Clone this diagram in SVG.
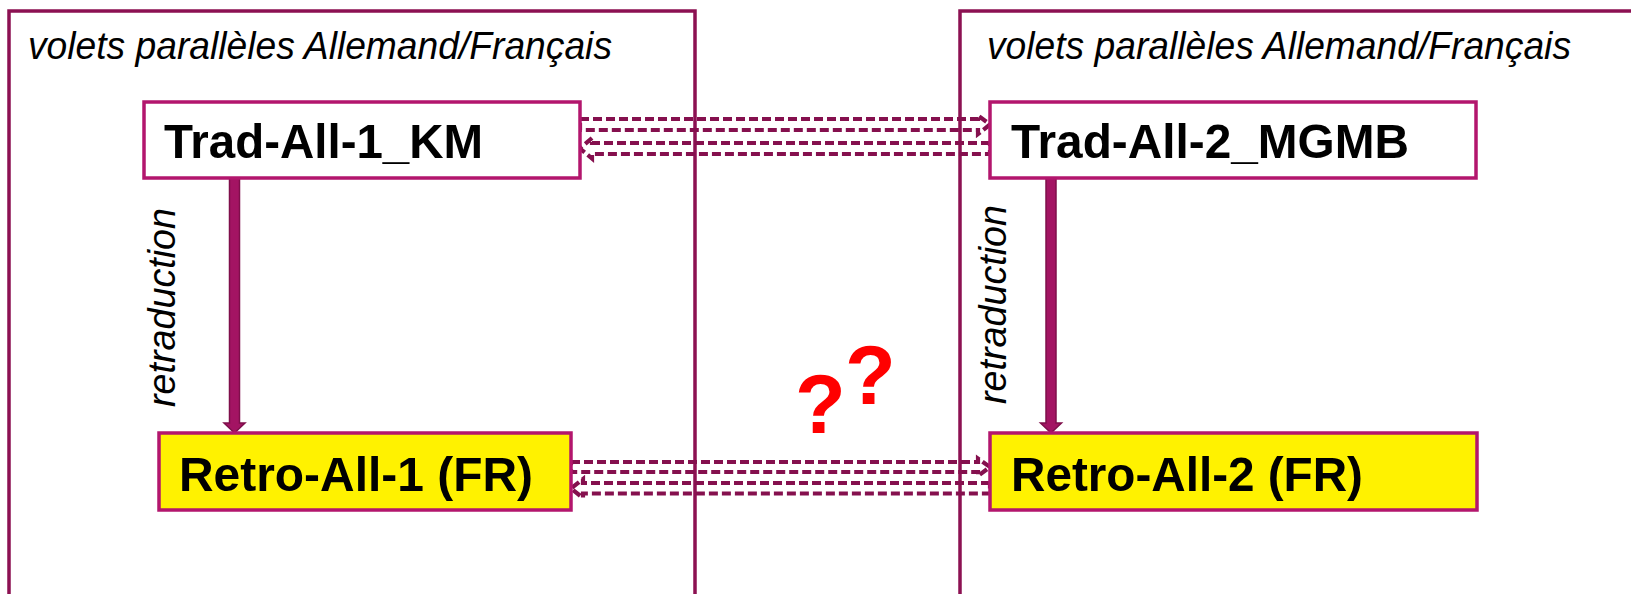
<svg xmlns="http://www.w3.org/2000/svg" width="1631" height="594" viewBox="0 0 1631 594">
<style>
.panel{fill:none;stroke:#8C1152;stroke-width:3.5}
.node{stroke:#B3166D;stroke-width:3.5}
.plain{fill:#FFFFFF}
.yellow{fill:#FFF200}
.title{font-family:"Liberation Sans",Arial,sans-serif;font-style:italic;font-size:39px;fill:#000}
.lbl{font-family:"Liberation Sans",Arial,sans-serif;font-weight:bold;font-size:49px;fill:#000}
.dash{fill:none;stroke:#85104E;stroke-width:4.2;stroke-dasharray:9 4}
.block{fill:#A31463;stroke:#7F0F4B;stroke-width:1.5}
.q{font-family:"Liberation Sans",Arial,sans-serif;font-weight:bold;font-size:83px;fill:#FF0000}
</style>
<rect width="1631" height="594" fill="#FFFFFF"/>
<g id="panel-left">
<path class="panel" d="M9,600 V11 H695 V600"/>
<text class="title" x="28" y="59" textLength="584" lengthAdjust="spacingAndGlyphs">volets parallèles Allemand/Français</text>
</g>
<g id="panel-right">
<path class="panel" d="M960,600 V11 H1640"/>
<text class="title" x="987" y="59" textLength="584" lengthAdjust="spacingAndGlyphs">volets parallèles Allemand/Français</text>
</g>
<g id="connectors">
<polygon class="dash" points="580,119 978,119 978,115.5 990,124.5 978,134 978,130 580,130"/>
<polygon class="dash" points="990,143 592,143 592,138 580,148.5 592,158.5 592,154 990,154"/>
<polygon class="dash" points="571,462 978,462 978,458.5 990,467 978,476 978,472 571,472"/>
<polygon class="dash" points="990,483 583,483 583,479 571,488.5 583,498 583,493.5 990,493.5"/>
<polygon class="block" points="229.5,178 239.5,178 239.5,423 245,423 234.5,433 224,423 229.5,423"/>
<polygon class="block" points="1046,178 1056,178 1056,423 1061.5,423 1051,433 1040.5,423 1046,423"/>
<text class="title" transform="translate(175,407) rotate(-90)" textLength="199" lengthAdjust="spacingAndGlyphs">retraduction</text>
<text class="title" transform="translate(1006,404) rotate(-90)" textLength="199" lengthAdjust="spacingAndGlyphs">retraduction</text>
</g>
<g id="trad-all-1">
<rect class="node plain" x="144" y="102" width="436" height="76"/>
<text class="lbl" x="164" y="158" textLength="319" lengthAdjust="spacingAndGlyphs">Trad-All-1_KM</text>
</g>
<g id="trad-all-2">
<rect class="node plain" x="990" y="102" width="486" height="76"/>
<text class="lbl" x="1011" y="158" textLength="398" lengthAdjust="spacingAndGlyphs">Trad-All-2_MGMB</text>
</g>
<g id="retro-all-1">
<rect class="node yellow" x="159" y="433" width="412" height="77"/>
<text class="lbl" x="179" y="491" textLength="354" lengthAdjust="spacingAndGlyphs">Retro-All-1 (FR)</text>
</g>
<g id="retro-all-2">
<rect class="node yellow" x="990" y="433" width="487" height="77"/>
<text class="lbl" x="1011" y="491" textLength="352" lengthAdjust="spacingAndGlyphs">Retro-All-2 (FR)</text>
</g>
<g id="question-marks">
<text class="q" x="795" y="433">?</text>
<text class="q" x="845" y="404">?</text>
</g>
</svg>
